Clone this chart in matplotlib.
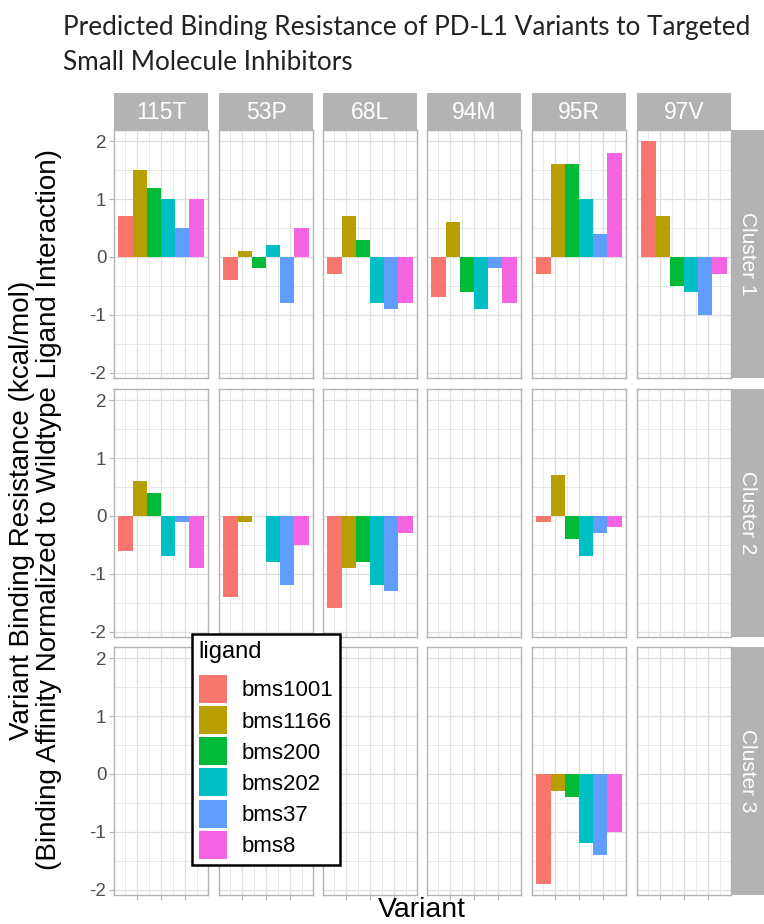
import numpy as np
import matplotlib.pyplot as plt
from matplotlib.patches import Patch

# data
variants = ['115T', '53P', '68L', '94M', '95R', '97V']
clusters = ['Cluster 1', 'Cluster 2', 'Cluster 3']
ligands = ['bms1001', 'bms1166', 'bms200', 'bms202', 'bms37', 'bms8']
colors = ['#F8766D', '#B79F00', '#00BA38', '#00BFC4', '#619CFF', '#F564E3']

nan = np.nan
# rows = variants, columns = ligands (nan = no bar)
cluster1 = [
    [0.7, 1.5, 1.2, 1.0, 0.5, 1.0],
    [-0.4, 0.1, -0.2, 0.2, -0.8, 0.5],
    [-0.3, 0.7, 0.3, -0.8, -0.9, -0.8],
    [-0.7, 0.6, -0.6, -0.9, -0.2, -0.8],
    [-0.3, 1.6, 1.6, 1.0, 0.4, 1.8],
    [2.0, 0.7, -0.5, -0.6, -1.0, -0.3],
]
cluster2 = [
    [-0.6, 0.6, 0.4, -0.7, -0.1, -0.9],
    [-1.4, -0.1, nan, -0.8, -1.2, -0.5],
    [-1.6, -0.9, -0.8, -1.2, -1.3, -0.3],
    [nan, nan, nan, nan, nan, nan],
    [-0.1, 0.7, -0.4, -0.7, -0.3, -0.2],
    [nan, nan, nan, nan, nan, nan],
]
cluster3 = [
    [nan, nan, nan, nan, nan, nan],
    [nan, nan, nan, nan, nan, nan],
    [nan, nan, nan, nan, nan, nan],
    [nan, nan, nan, nan, nan, nan],
    [-1.9, -0.3, -0.4, -1.2, -1.4, -1.0],
    [nan, nan, nan, nan, nan, nan],
]
cluster_values = [cluster1, cluster2, cluster3]

W, H = 764, 924
fig = plt.figure(figsize=(W / 100, H / 100), dpi=100)


def box(left, top, w, h):
    return [left / W, 1 - (top + h) / H, w / W, h / H]


col_left = [114, 219, 323, 427, 532, 637]
row_top = [130, 389, 647]
pw, ph = 94, 248
grey70 = '#B3B3B3'
grid_c = '#DEDEDE'

bw = 0.9 / len(ligands)
offsets = (np.arange(len(ligands)) - (len(ligands) - 1) / 2) * bw

for r, cl in enumerate(clusters):
    for c, var in enumerate(variants):
        ax = fig.add_axes(box(col_left[c], row_top[r], pw, ph))
        vals = np.array(cluster_values[r][c], dtype=float)
        for i, lig in enumerate(ligands):
            if not np.isnan(vals[i]):
                ax.bar(offsets[i], vals[i], width=bw, color=colors[i], zorder=3)
        ax.set_xlim(-0.495, 0.495)
        ax.set_ylim(-2.095, 2.195)
        ax.set_yticks([-2, -1, 0, 1, 2])
        ax.set_yticks([-1.5, -0.5, 0.5, 1.5], minor=True)
        ax.set_xticks([-0.25, 0, 0.25])
        ax.set_xticks([-0.375, -0.125, 0.125, 0.375], minor=True)
        ax.grid(True, which='major', color=grid_c, lw=0.9, zorder=0)
        ax.grid(True, which='minor', color=grid_c, lw=0.5, zorder=0)
        ax.set_axisbelow(True)
        for s in ax.spines.values():
            s.set_color(grey70)
            s.set_linewidth(1.0)
        ax.tick_params(which='minor', length=0)
        ax.tick_params(which='major', color=grey70, length=3.5, width=0.8)
        ax.set_xticklabels([])
        if r != len(clusters) - 1:
            ax.tick_params(axis='x', which='major', length=0)
        if c == 0:
            ax.set_yticklabels(['-2', '-1', '0', '1', '2'], fontsize=13.5,
                               color='#4D4D4D', family='Liberation Sans')
            ax.tick_params(axis='y', pad=2)
        else:
            ax.set_yticklabels([])
            ax.tick_params(axis='y', which='major', length=0)

# top strips
for c, var in enumerate(variants):
    sax = fig.add_axes(box(col_left[c], 93, pw, 37))
    sax.set_facecolor(grey70)
    sax.set_xticks([])
    sax.set_yticks([])
    for s in sax.spines.values():
        s.set_visible(False)
    sax.text(0.5, 0.47, var, color='white', fontsize=16.5, ha='center', va='center',
             family=['Liberation Sans Narrow', 'Liberation Sans'], transform=sax.transAxes)

# right strips
for r, cl in enumerate(clusters):
    sax = fig.add_axes(box(731, row_top[r], 34, ph))
    sax.set_facecolor(grey70)
    sax.set_xticks([])
    sax.set_yticks([])
    for s in sax.spines.values():
        s.set_visible(False)
    sax.text(0.5, 0.5, cl, color='white', fontsize=15, ha='center', va='center',
             rotation=-90, family='Liberation Sans', transform=sax.transAxes)

# title
fig.text(63 / W, 1 - 15 / H, 'Predicted Binding Resistance of PD-L1 Variants to Targeted\n'
         'Small Molecule Inhibitors', ha='left', va='top', fontsize=18.8,
         family='Lato', linespacing=1.48, color='#222222')

# axis labels
fig.text(36 / W, 1 - 510 / H, 'Variant Binding Resistance (kcal/mol)\n'
         '(Binding Affinity Normalized to Wildtype Ligand Interaction)',
         rotation=90, ha='center', va='center', fontsize=20,
         family='Liberation Sans', linespacing=1.05)
fig.text(422 / W, 1 - 910 / H, 'Variant', ha='center', va='center', fontsize=20.5,
         family='Liberation Sans')

# legend
handles = [Patch(facecolor=colors[i], edgecolor='none', label=lig) for i, lig in enumerate(ligands)]
leg = fig.legend(handles=handles, title='ligand', loc='upper left',
                 bbox_to_anchor=(192 / W, 1 - 634 / H), frameon=True, fancybox=False,
                 prop={'family': 'Liberation Sans', 'size': 16},
                 title_fontproperties={'family': 'Liberation Sans', 'size': 17},
                 handlelength=1.26, handleheight=1.56, labelspacing=0.14,
                 handletextpad=0.65, borderpad=0.3, borderaxespad=0)
leg._legend_box.align = 'left'
leg._legend_box.sep = 9
leg.get_frame().set_edgecolor('black')
leg.get_frame().set_linewidth(1.8)
leg.get_frame().set_alpha(1)

fig.savefig('out.png', dpi=100)
